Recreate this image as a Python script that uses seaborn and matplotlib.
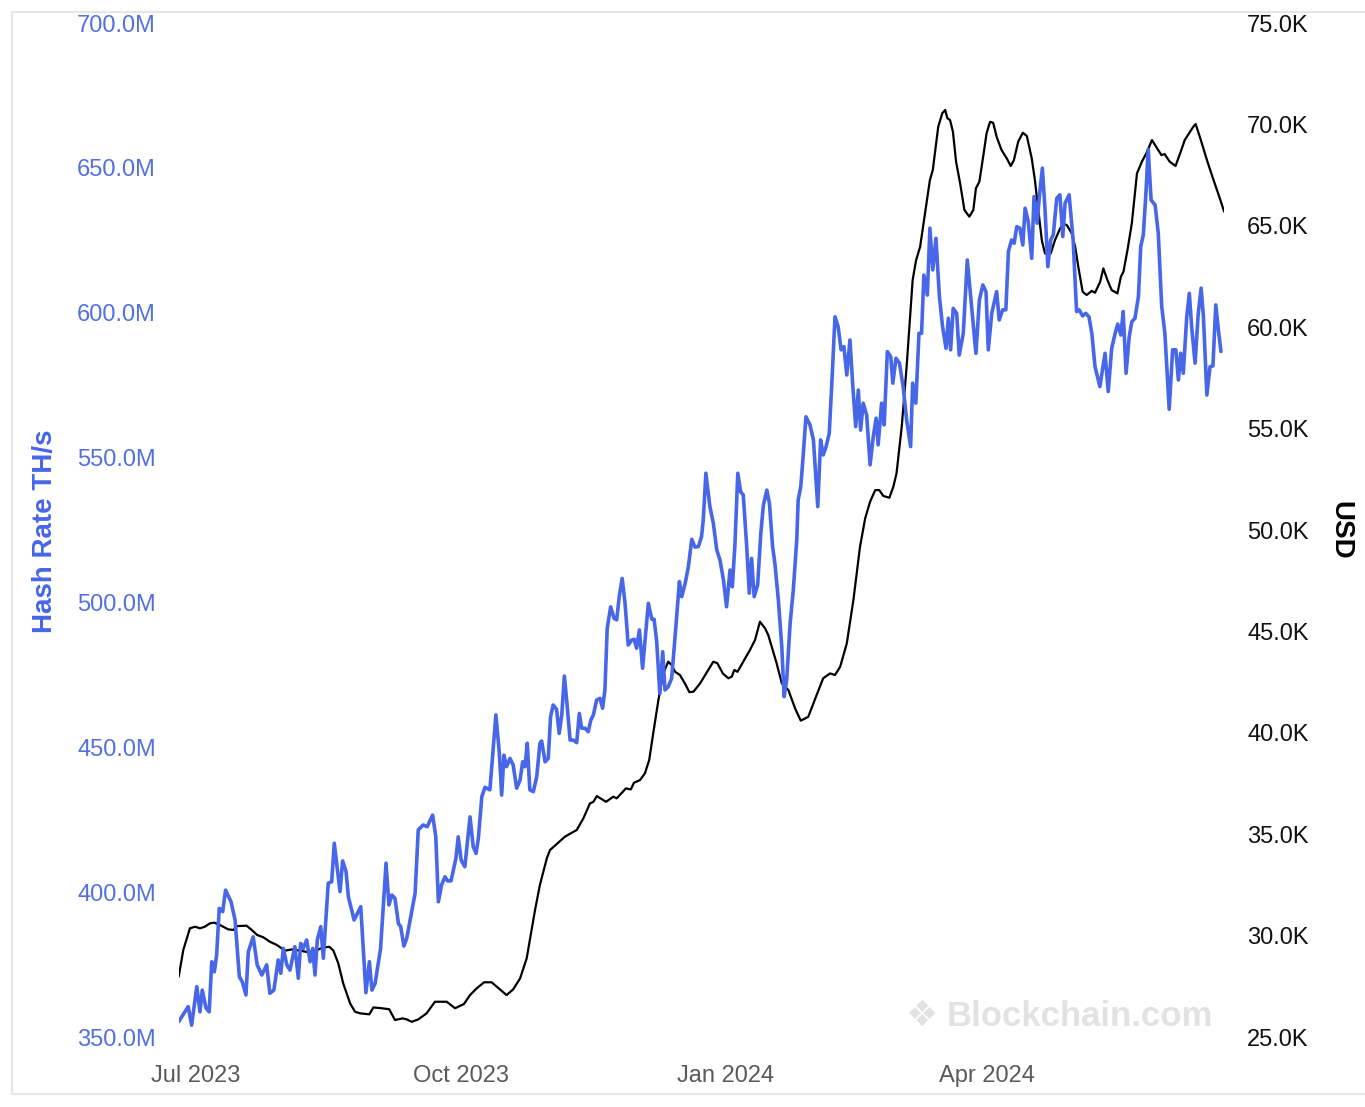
import pandas as pd
import numpy as np
import matplotlib
matplotlib.use('Agg')
import matplotlib.pyplot as plt
from matplotlib.patches import Rectangle
import seaborn as sns

# series start date; x values are days since this date
start = pd.Timestamp('2023-06-25')

hash_day = [0.0, 3.3, 4.5, 6.3, 7.4, 8.2, 9.5, 10.6, 11.5, 12.4, 13.2, 14.1, 15.3, 16.3, 18.2, 19.6, 21.1, 22.1,
            23.4, 24.2, 25.9, 27.3, 28.9, 30.6, 31.7, 33.1, 34.6, 35.5, 36.4, 37.6, 38.7, 40.4, 41.6, 42.4, 43.3,
            44.5, 45.7, 46.6, 47.4, 48.2, 49.4, 50.3, 52.0, 53.2, 54.1, 56.1, 57.0, 58.2, 59.0, 61.0, 63.3, 65.1,
            66.3, 67.2, 68.3, 70.2, 72.1, 73.1, 74.1, 75.2, 76.4, 77.2, 78.3, 79.3, 82.2, 83.3, 85.0, 86.4, 88.3,
            89.4, 90.3, 91.4, 92.6, 93.5, 94.7, 96.4, 97.2, 98.2, 99.5, 101.3, 102.4, 103.4, 104.2, 105.4, 106.5,
            108.2, 110.3, 111.5, 112.3, 113.1, 114.0, 115.2, 116.3, 117.5, 118.7, 119.6, 120.4, 121.2, 122.1,
            123.3, 124.5, 125.6, 126.2, 127.4, 128.5, 129.3, 130.2, 131.4, 132.3, 133.2, 134.1, 134.9, 136.1,
            137.2, 138.4, 139.3, 140.1, 141.3, 142.4, 143.3, 144.2, 145.3, 146.5, 147.4, 148.2, 149.0, 150.2,
            151.4, 152.3, 153.2, 154.2, 155.2, 156.3, 157.5, 158.4, 159.2, 160.2, 161.3, 162.5, 163.3, 164.5,
            165.3, 166.2, 167.3, 168.3, 169.1, 170.2, 171.4, 172.6, 174.1, 174.9, 176.1, 177.2, 178.4, 179.5,
            180.7, 181.8, 182.4, 183.3, 184.7, 185.9, 187.1, 188.2, 189.4, 190.5, 191.7, 192.5, 193.4, 194.4,
            195.4, 196.3, 197.5, 198.4, 199.2, 200.1, 201.3, 202.4, 203.3, 204.5, 205.4, 206.5, 207.3, 208.5,
            209.7, 210.5, 211.4, 212.6, 213.7, 214.9, 215.4, 216.3, 217.2, 218.1, 219.5, 220.7, 222.2, 223.2,
            224.1, 225.1, 226.2, 227.1, 228.2, 229.3, 230.3, 231.3, 232.3, 233.4, 234.4, 235.4, 236.3, 237.1,
            238.0, 239.2, 240.4, 241.5, 242.5, 243.2, 244.4, 245.3, 246.4, 247.6, 248.3, 249.4, 250.6, 251.9,
            253.1, 254.5, 255.2, 256.3, 257.4, 258.3, 259.1, 260.3, 261.2, 262.2, 263.3, 264.5, 265.6, 266.8,
            267.6, 268.4, 269.3, 270.5, 271.4, 272.8, 274.2, 275.7, 277.2, 278.4, 279.6, 280.7, 281.5, 282.7,
            284.4, 285.3, 286.5, 287.6, 288.5, 289.6, 290.5, 291.4, 292.5, 293.5, 294.3, 295.4, 296.6, 297.4,
            298.5, 299.2, 300.3, 301.2, 302.2, 303.2, 304.1, 305.3, 306.4, 307.4, 308.2, 309.6, 311.0, 312.2,
            313.1, 314.3, 315.4, 316.5, 317.5, 318.6, 320.3, 322.1, 323.2, 324.4, 325.6, 326.5, 327.6, 328.4,
            329.4, 330.5, 331.4, 332.5, 333.7, 334.5, 335.4, 336.3, 337.1, 338.1, 339.5, 340.6, 341.8, 342.9,
            344.4, 345.6, 346.7, 347.6, 348.4, 349.3, 350.5, 351.4, 352.2, 353.4, 354.5, 355.5, 356.3, 357.5,
            358.6, 359.6, 360.6, 361.5, 362.4]

# hash rate, millions of TH/s
hash_m = [355.3, 360.5, 354.1, 367.4, 358.7, 366.2, 360.0, 358.7, 376.0, 372.5, 378.3, 394.4, 393.3, 400.7,
          396.7, 390.4, 370.8, 369.1, 364.5, 379.4, 384.6, 374.9, 371.4, 374.9, 365.1, 366.2, 376.6, 372.0,
          380.6, 374.9, 373.1, 381.2, 370.3, 382.3, 380.6, 383.5, 376.0, 380.6, 371.4, 383.5, 388.1, 377.2,
          403.1, 403.6, 416.9, 400.2, 410.8, 407.1, 398.4, 390.4, 395.0, 365.3, 376.0, 366.2, 368.5, 380.6,
          410.0, 395.6, 399.0, 397.9, 389.2, 388.1, 381.4, 384.1, 399.6, 421.5, 423.2, 422.6, 426.6, 419.1,
          396.7, 402.5, 405.3, 403.9, 403.9, 411.7, 419.1, 411.1, 408.8, 426.0, 415.7, 413.4, 418.6, 433.0,
          436.2, 435.3, 461.2, 447.9, 433.5, 447.3, 443.3, 446.2, 443.9, 435.9, 438.7, 445.0, 443.3, 451.4,
          435.3, 434.7, 439.9, 451.4, 452.2, 445.0, 446.2, 460.6, 464.6, 463.1, 454.8, 461.2, 474.6, 466.3,
          452.5, 452.5, 451.6, 461.7, 456.6, 456.6, 455.4, 459.4, 461.2, 466.3, 466.9, 463.5, 469.8, 491.1,
          498.5, 494.5, 494.0, 502.2, 508.3, 499.7, 485.3, 487.0, 487.3, 484.2, 490.5, 477.3, 490.5, 499.7,
          494.2, 494.2, 486.5, 468.6, 483.0, 469.8, 470.9, 473.8, 488.2, 507.2, 502.0, 506.6, 512.2, 521.8,
          519.1, 519.3, 522.7, 528.5, 544.6, 533.1, 527.3, 518.1, 514.7, 507.8, 498.5, 511.2, 505.4, 519.8,
          544.6, 538.2, 537.1, 519.3, 503.2, 515.2, 502.0, 506.0, 523.9, 533.6, 538.8, 534.2, 519.3, 513.5,
          500.9, 484.7, 467.5, 473.2, 492.8, 504.3, 521.6, 535.4, 540.0, 551.5, 564.1, 561.3, 556.1, 533.1,
          556.1, 550.9, 553.8, 558.4, 575.7, 598.6, 595.2, 587.2, 588.3, 578.5, 590.6, 574.5, 560.7, 573.3,
          559.5, 568.8, 564.7, 547.5, 557.2, 563.6, 554.4, 568.8, 561.3, 586.6, 584.8, 575.7, 584.3, 582.6,
          574.5, 563.0, 553.8, 575.7, 568.8, 592.9, 592.9, 613.0, 606.1, 629.2, 614.8, 625.7, 605.6, 595.2,
          587.7, 598.1, 587.2, 601.5, 599.8, 585.4, 592.9, 618.2, 602.1, 586.0, 604.4, 609.6, 607.3, 587.2,
          599.8, 607.3, 597.5, 601.0, 601.0, 621.1, 625.1, 624.0, 629.7, 629.2, 623.4, 636.1, 631.4, 618.8,
          640.1, 630.9, 639.5, 649.9, 636.1, 615.9, 625.1, 626.9, 639.5, 640.7, 626.3, 637.8, 640.7, 625.1,
          600.4, 601.0, 598.9, 599.8, 598.6, 592.9, 581.4, 574.5, 586.0, 572.8, 587.7, 592.9, 596.1, 592.3,
          600.4, 579.1, 591.7, 596.9, 598.1, 605.6, 622.8, 626.9, 641.2, 656.4, 638.9, 637.2, 627.4, 602.1,
          592.9, 566.7, 587.2, 587.2, 576.8, 586.0, 579.1, 598.6, 606.7, 595.2, 582.6, 599.8, 608.5, 598.6,
          571.6, 581.4, 581.6, 602.7, 594.1, 586.6]

price_day = [0.0, 1.6, 3.9, 5.7, 7.4, 9.1, 10.9, 12.4, 14.4, 17.2, 19.0, 20.2, 23.6, 25.4, 27.3, 29.4, 31.7,
             34.1, 37.0, 39.3, 42.2, 45.1, 48.0, 50.3, 52.4, 53.8, 55.5, 57.2, 59.6, 61.3, 63.0, 66.3, 67.7,
             70.6, 73.2, 75.2, 77.9, 79.3, 81.0, 83.3, 86.2, 89.1, 93.2, 96.1, 99.2, 101.3, 103.6, 106.2, 108.8,
             111.7, 114.0, 116.3, 118.7, 121.0, 122.1, 123.9, 125.6, 128.0, 129.1, 134.3, 138.4, 140.7, 143.0,
             144.2, 145.4, 148.6, 151.1, 152.3, 155.5, 157.2, 158.3, 160.4, 162.1, 163.6, 165.0, 166.8, 168.5,
             170.2, 171.4, 172.6, 174.3, 176.1, 177.6, 179.0, 181.3, 184.8, 185.9, 187.3, 189.2, 191.1, 192.3,
             193.2, 194.3, 196.3, 198.6, 200.4, 202.1, 203.9, 205.0, 206.2, 207.9, 209.7, 212.0, 214.3, 216.3,
             218.9, 221.8, 224.1, 226.5, 228.2, 230.0, 232.3, 234.6, 236.9, 238.7, 240.4, 242.2, 243.6, 245.0,
             247.1, 248.5, 249.6, 251.4, 253.1, 255.2, 256.4, 257.8, 261.2, 262.2, 264.1, 265.5, 266.5, 267.3,
             268.2, 269.2, 270.3, 271.7, 273.2, 274.9, 276.3, 277.2, 278.4, 279.8, 280.9, 282.1, 283.2, 284.4,
             286.1, 287.9, 289.3, 290.4, 291.9, 293.5, 294.9, 296.6, 297.7, 298.9, 300.1, 301.2, 302.0, 303.2,
             304.7, 306.5, 307.6, 308.8, 310.5, 311.7, 312.8, 314.3, 315.7, 317.5, 318.6, 320.4, 321.5, 322.9,
             324.4, 326.4, 327.6, 328.5, 329.9, 331.4, 333.2, 334.9, 336.7, 338.4, 340.2, 341.7, 342.8, 344.6,
             346.6, 348.4, 349.8, 351.3, 352.8, 353.6, 355.4, 357.7, 360.0, 361.8, 363.5]

# market price, thousands of USD
price_k = [27.97, 29.29, 30.36, 30.44, 30.36, 30.44, 30.61, 30.64, 30.52, 30.31, 30.28, 30.47, 30.49, 30.28,
           30.03, 29.92, 29.70, 29.54, 29.26, 29.32, 29.26, 29.18, 29.29, 29.42, 29.45, 29.26, 28.63, 27.65,
           26.66, 26.25, 26.17, 26.12, 26.46, 26.42, 26.37, 25.84, 25.92, 25.87, 25.75, 25.87, 26.17, 26.74,
           26.74, 26.42, 26.63, 27.07, 27.40, 27.70, 27.70, 27.35, 27.07, 27.35, 27.89, 28.88, 29.78, 31.26,
           32.50, 33.81, 34.22, 34.88, 35.21, 35.78, 36.52, 36.60, 36.88, 36.60, 36.85, 36.77, 37.26, 37.21,
           37.54, 37.67, 38.00, 38.66, 39.98, 41.62, 42.93, 43.51, 43.34, 43.01, 42.85, 42.41, 42.00, 42.03,
           42.44, 43.26, 43.51, 43.43, 42.93, 42.69, 42.77, 43.10, 43.01, 43.51, 44.08, 44.58, 45.48, 45.15,
           44.82, 44.25, 43.43, 42.44, 42.11, 41.21, 40.60, 40.79, 41.86, 42.69, 42.93, 42.85, 43.26, 44.41,
           46.55, 49.18, 50.58, 51.40, 51.97, 51.97, 51.68, 51.59, 52.14, 52.80, 55.09, 58.05, 62.33, 63.31,
           63.97, 67.26, 67.75, 69.89, 70.55, 70.71, 70.30, 70.22, 69.64, 68.16, 67.10, 65.78, 65.45, 65.78,
           66.85, 67.18, 68.49, 69.56, 70.13, 70.08, 69.39, 68.74, 68.33, 67.95, 68.24, 69.15, 69.59, 69.43,
           68.33, 67.26, 65.78, 64.30, 63.64, 63.72, 63.64, 64.30, 64.88, 65.09, 65.04, 64.63, 63.97, 62.98,
           61.75, 61.59, 61.79, 61.70, 62.24, 62.90, 62.33, 61.83, 61.67, 62.49, 62.74, 63.81, 65.12, 67.59,
           68.16, 68.65, 69.23, 68.82, 68.49, 68.54, 68.16, 67.95, 68.65, 69.23, 69.56, 69.89, 70.02, 69.23,
           68.16, 67.18, 66.44, 65.70]

hash_ticks = [350, 400, 450, 500, 550, 600, 650, 700]
price_ticks = [25, 30, 35, 40, 45, 50, 55, 60, 65, 70, 75]
date_ticks = ['2023-07-01', '2023-10-01', '2024-01-01', '2024-04-01']
date_labels = ['Jul 2023', 'Oct 2023', 'Jan 2024', 'Apr 2024']

BLUE = '#4766e8'
BLUE_TXT = '#5270e0'

sns.set_theme(style='white')
plt.rcParams['font.family'] = ['Liberation Sans', 'DejaVu Sans']

df_hash = pd.DataFrame({'date': start + pd.to_timedelta(hash_day, unit='D'), 'val': hash_m})
df_price = pd.DataFrame({'date': start + pd.to_timedelta(price_day, unit='D'), 'val': price_k})

fig = plt.figure(figsize=(13.65, 11.07), dpi=100)
ax = fig.add_axes([0.1309, 0.0632, 0.7659, 0.9160])
ax2 = ax.twinx()

sns.lineplot(data=df_price, x='date', y='val', ax=ax2, color='black', linewidth=1.6,
             estimator=None, sort=False)
sns.lineplot(data=df_hash, x='date', y='val', ax=ax, color=BLUE, linewidth=2.6,
             estimator=None, sort=False)
ax.set_zorder(ax2.get_zorder() + 1)
ax.patch.set_visible(False)

ax.set_xlim(start, start + pd.Timedelta(days=363.5))
ax.set_ylim(350, 700)
ax2.set_ylim(25, 75)

ax.set_yticks(hash_ticks)
ax.set_yticklabels([f'{v:.1f}M' for v in hash_ticks])
ax2.set_yticks(price_ticks)
ax2.set_yticklabels([f'{v:.1f}K' for v in price_ticks])
ax.set_xticks(pd.to_datetime(date_ticks))
ax.set_xticklabels(date_labels)

ax.tick_params(axis='y', length=0, pad=16.5, labelsize=17, labelcolor=BLUE_TXT)
ax2.tick_params(axis='y', length=0, pad=16.5, labelsize=17, labelcolor='#111111')
ax.tick_params(axis='x', length=0, pad=20, labelsize=17, labelcolor='#5a5a5a')

for a in (ax, ax2):
    a.set_xlabel('')
    a.set_ylabel('')
    a.grid(False)
    for s in a.spines.values():
        s.set_visible(False)

fig.text(45 / 1365, 1 - 531 / 1107, 'Hash Rate TH/s', rotation=90, ha='center', va='center',
         fontsize=20, fontweight='bold', color=BLUE)
fig.text(1340 / 1365, 1 - 530 / 1107, 'USD', rotation=270, ha='center', va='center',
         fontsize=20, fontweight='bold', color='black')

# watermark
fig.text(922 / 1365, 1 - 1016 / 1107, '\u2756', ha='center', va='center', fontsize=26,
         color='#e2e2e2', family='DejaVu Sans')
fig.text(1213 / 1365, 1 - 1016 / 1107, 'Blockchain.com', ha='right', va='center', fontsize=25,
         fontweight='bold', color='#e2e2e2')

# card border
fig.add_artist(Rectangle((12 / 1365, 1 - 1094 / 1107), 2, (1094 - 12) / 1107,
                         transform=fig.transFigure, fill=False, edgecolor='#e6e6e6', linewidth=1.5))

fig.savefig('out.png', dpi=100)
plt.close()
